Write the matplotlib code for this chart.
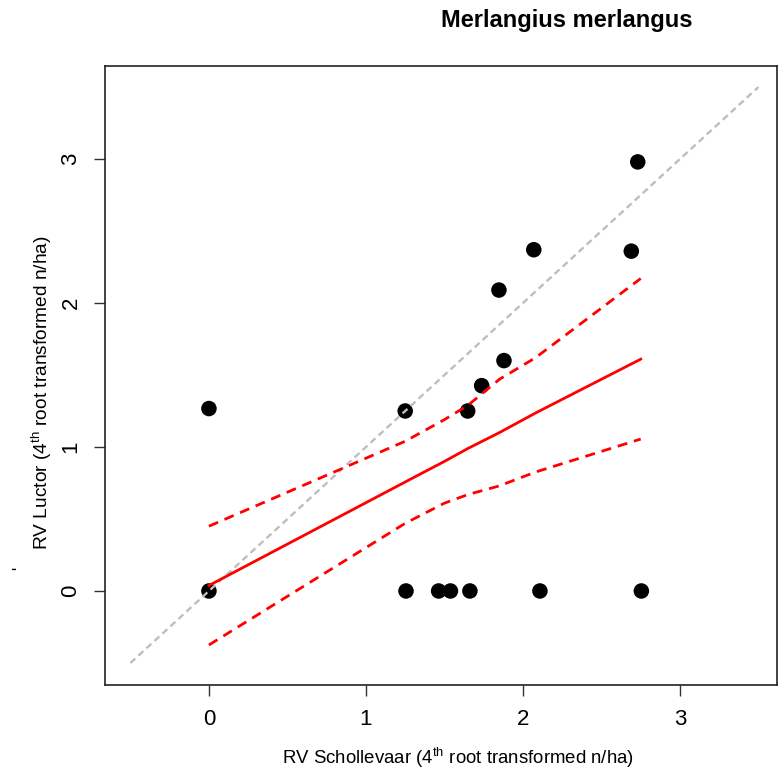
import numpy as np
import matplotlib as mpl
mpl.use('Agg')
import matplotlib.pyplot as plt

mpl.rcParams['font.family'] = 'Liberation Sans'
mpl.rcParams['mathtext.fontset'] = 'custom'
mpl.rcParams['mathtext.rm'] = 'Liberation Sans'
mpl.rcParams['mathtext.it'] = 'Liberation Sans:italic'
mpl.rcParams['mathtext.bf'] = 'Liberation Sans:bold'

########################################################
# observations (4th root transformed n/ha)
schollevaar = [0.0, 0.0, 1.25, 1.255, 1.463, 1.538, 1.648, 1.662,
               1.737, 1.847, 1.879, 2.069, 2.108, 2.69, 2.731, 2.754]
luctor = [0.0, 1.267, 1.25, 0.0, 0.0, 0.0, 1.25, 0.0,
          1.426, 2.09, 1.60, 2.37, 0.0, 2.36, 2.98, 0.0]

# fitted model with confidence band
fit_x = [0.0, 1.25, 1.5, 1.65, 1.85, 2.08, 2.75]
fit_y = [0.038, 0.757, 0.90, 0.99, 1.10, 1.236, 1.61]
upper_y = [0.45, 1.04, 1.19, 1.29, 1.47, 1.62, 2.17]
lower_y = [-0.375, 0.47, 0.61, 0.67, 0.73, 0.826, 1.055]

# 1:1 reference line
ref_x = [-0.5, 3.5]
ref_y = [-0.5, 3.5]

ticks = [0, 1, 2, 3]
title = 'Merlangius merlangus'
xlabel = r'RV Schollevaar (4$^{\mathrm{th}}$ root transformed n/ha)'
ylabel = r'RV Luctor (4$^{\mathrm{th}}$ root transformed n/ha)'
########################################################

W, H = 782, 774
fig = plt.figure(figsize=(W / 100, H / 100), dpi=100)
ax = fig.add_axes([105 / W, 1 - 685 / H, (777 - 105) / W, (685 - 66) / H])

ax.scatter(schollevaar, luctor, s=125, c='black', edgecolors='none', zorder=2)
ax.plot(ref_x, ref_y, color='#BEBEBE', lw=1.7, dashes=(2.8, 1.8),
        dash_capstyle='butt', zorder=3)
ax.plot(fit_x, fit_y, color='red', lw=2.0, zorder=4)
ax.plot(fit_x, upper_y, color='red', lw=2.0, dashes=(3.6, 2.5), zorder=4)
ax.plot(fit_x, lower_y, color='red', lw=2.0, dashes=(3.6, 2.5), zorder=4)

ax.set_xlim(-0.662, 3.618)
ax.set_ylim(-0.653, 3.646)
ax.set_xticks(ticks)
ax.set_yticks(ticks)
ax.set_xticklabels([str(t) for t in ticks], fontsize=16)
ax.set_yticklabels([str(t) for t in ticks], fontsize=16, rotation=90, va='center')
ax.tick_params(direction='out', length=8, width=1, color='#333333', pad=9)
for sp in ax.spines.values():
    sp.set_linewidth(1.2)
    sp.set_color('#222222')

fig.text(567 / W, 1 - 20 / H, title, fontsize=17, fontweight='bold',
         ha='center', va='center')
fig.text(457.5 / W, 1 - 758 / H, xlabel, fontsize=13.4, ha='center', va='center')
fig.text(42 / W, 1 - 393 / H, ylabel, fontsize=13.8, rotation=90,
         ha='center', va='center')
fig.text(20 / W, 1 - 568 / H, "'", fontsize=12, rotation=90,
         ha='center', va='center')

fig.savefig('out.png', dpi=100)
